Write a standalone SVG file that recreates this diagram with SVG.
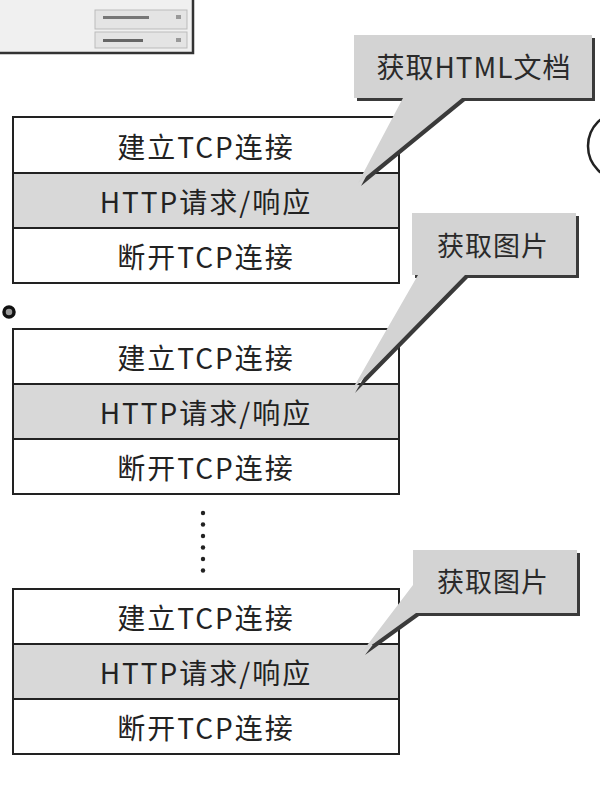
<svg xmlns="http://www.w3.org/2000/svg" width="600" height="798" viewBox="0 0 600 798">
<style>
.row{fill:#ffffff;stroke:#222;stroke-width:2}
.grow{fill:#d8d8d8;stroke:#222;stroke-width:2}
.t{font-family:"Noto Sans CJK SC","Liberation Sans",sans-serif;font-size:28px;fill:#222;text-anchor:middle;dominant-baseline:central;letter-spacing:2px}
.bt{font-family:"Noto Sans CJK SC","Liberation Sans",sans-serif;font-size:27px;fill:#2a2a2a;text-anchor:middle;dominant-baseline:central;letter-spacing:1px}
.bub{fill:#d3d3d3}
.sh{fill:#3a3a3a}
.dot{fill:#222}
</style>
<rect width="600" height="798" fill="#ffffff"/>

<g id="screenshot">
  <rect x="-2" y="-2" width="195" height="55" fill="#f0f0f0" stroke="#333" stroke-width="2.5"/>
  <rect x="95" y="10" width="92" height="19" fill="#e4e4e4" stroke="#bbb" stroke-width="1"/>
  <rect x="95" y="32" width="92" height="16" fill="#e4e4e4" stroke="#bbb" stroke-width="1"/>
  <rect x="103" y="16" width="46" height="3" fill="#777"/>
  <rect x="176" y="15" width="5" height="4" fill="#999"/>
  <rect x="103" y="39" width="40" height="3" fill="#666"/>
  <rect x="176" y="38" width="5" height="4" fill="#999"/>
</g>

<g id="right-circle">
  <circle cx="622" cy="146" r="34" fill="none" stroke="#222" stroke-width="2.5"/>
</g>

<g id="left-dot">
  <circle cx="9" cy="312" r="5" fill="#999" stroke="#111" stroke-width="3.5"/>
</g>

<g id="box1">
  <rect class="row" x="13" y="117" width="386" height="56"/>
  <rect class="grow" x="13" y="173" width="386" height="55"/>
  <rect class="row" x="13" y="228" width="386" height="55"/>
  <text class="t" x="206" y="146">建立TCP连接</text>
  <text class="t" x="206" y="201">HTTP请求/响应</text>
  <text class="t" x="206" y="256">断开TCP连接</text>
</g>

<g id="box2">
  <rect class="row" x="13" y="329" width="386" height="55"/>
  <rect class="grow" x="13" y="384" width="386" height="55"/>
  <rect class="row" x="13" y="439" width="386" height="55"/>
  <text class="t" x="206" y="357">建立TCP连接</text>
  <text class="t" x="206" y="412">HTTP请求/响应</text>
  <text class="t" x="206" y="467">断开TCP连接</text>
</g>

<g id="box3">
  <rect class="row" x="13" y="589" width="386" height="55"/>
  <rect class="grow" x="13" y="644" width="386" height="55"/>
  <rect class="row" x="13" y="699" width="386" height="55"/>
  <text class="t" x="206" y="617">建立TCP连接</text>
  <text class="t" x="206" y="672">HTTP请求/响应</text>
  <text class="t" x="206" y="727">断开TCP连接</text>
</g>

<g id="connectors">
  <circle class="dot" cx="203" cy="513" r="2.2"/>
  <circle class="dot" cx="203" cy="524.5" r="2.2"/>
  <circle class="dot" cx="203" cy="536" r="2.2"/>
  <circle class="dot" cx="203" cy="547.5" r="2.2"/>
  <circle class="dot" cx="203" cy="559" r="2.2"/>
  <circle class="dot" cx="203" cy="570.5" r="2.2"/>
</g>

<g id="bubble1">
  <path class="sh" transform="translate(3,3)" d="M354,35 H592 V98 H462 L358,183 L403,98 H354 Z"/>
  <path class="bub" d="M354,35 H592 V98 H462 L358,183 L403,98 H354 Z"/>
  <text class="bt" x="474" y="66" style="font-size:28px">获取HTML文档</text>
</g>

<g id="bubble2">
  <path class="sh" transform="translate(3,3)" d="M412,213 H576 V275 H465 L352,390 L418,275 H412 Z"/>
  <path class="bub" d="M412,213 H576 V275 H465 L352,390 L418,275 H412 Z"/>
  <text class="bt" x="493" y="244">获取图片</text>
</g>

<g id="bubble3">
  <path class="sh" transform="translate(3,3)" d="M413,550 H577 V613 H416 L362,652 L413,585 Z"/>
  <path class="bub" d="M413,550 H577 V613 H416 L362,652 L413,585 Z"/>
  <text class="bt" x="493" y="580">获取图片</text>
</g>
</svg>
